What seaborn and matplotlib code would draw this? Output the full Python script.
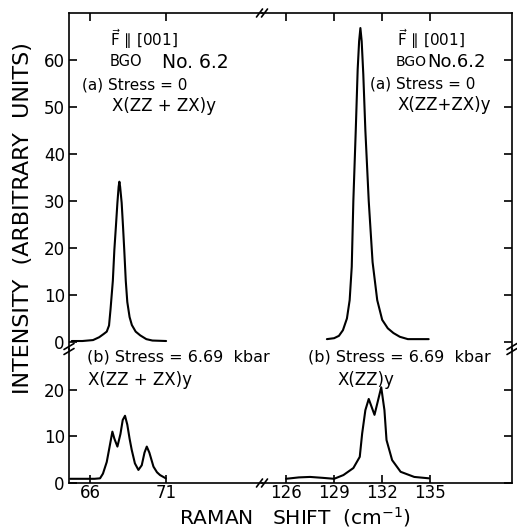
import matplotlib
matplotlib.use("Agg")
import matplotlib.pyplot as plt
import seaborn as sns
import pandas as pd
from matplotlib.lines import Line2D

# ---------------- data ----------------
# (a) stress = 0, low-frequency mode
a_low_x = [64.8, 65.5, 66.2, 66.6, 66.9, 67.1, 67.25, 67.35, 67.5, 67.6, 67.7, 67.8,
           67.88, 67.93, 67.98, 68.08, 68.17, 68.25, 68.35, 68.45, 68.6, 68.75, 69.0,
           69.3, 69.7, 70.1, 71.0]
a_low_y = [0.2, 0.2, 0.4, 1.0, 1.7, 2.2, 3.5, 7.0, 13.0, 19.6, 24.5, 29.6,
           33.0, 34.1, 33.0, 29.6, 24.5, 19.6, 13.0, 8.5, 5.3, 3.6, 2.2,
           1.4, 0.6, 0.3, 0.2]
# (a) stress = 0, high-frequency mode
a_high_x = [128.55, 129.0, 129.3, 129.55, 129.8, 129.97, 130.1, 130.2, 130.35, 130.47,
            130.56, 130.64, 130.72, 130.82, 130.95, 131.16, 131.4, 131.69, 132.0,
            132.35, 132.7, 133.1, 133.6, 134.9]
a_high_y = [0.6, 0.8, 1.3, 2.5, 5.0, 8.9, 16.0, 30.0, 45.0, 58.0,
            64.0, 66.8, 64.0, 57.0, 45.0, 30.0, 17.0, 8.9, 4.7,
            2.9, 1.9, 1.1, 0.6, 0.6]
# (b) stress = 6.69 kbar, low-frequency mode
b_low_x = [64.7, 65.5, 66.3, 66.66, 66.85, 67.1, 67.3, 67.47, 67.6, 67.8, 68.0, 68.15,
           68.3, 68.45, 68.6, 68.74, 68.95, 69.18, 69.4, 69.58, 69.73, 69.9, 70.17,
           70.4, 70.6, 70.98]
b_low_y = [0.9, 0.9, 0.9, 1.0, 2.0, 4.5, 8.0, 11.0, 9.5, 7.8, 10.5, 13.5,
           14.4, 12.5, 9.5, 7.1, 4.2, 2.8, 3.8, 6.5, 7.8, 6.5, 3.5,
           2.3, 1.7, 1.0]
# (b) stress = 6.69 kbar, high-frequency mode
b_high_x = [126.0, 126.8, 127.5, 128.3, 129.0, 129.58, 130.2, 130.6, 130.75, 130.95,
            131.16, 131.52, 131.94, 132.14, 132.27, 132.62, 133.15, 134.0, 134.92]
b_high_y = [0.9, 1.2, 1.3, 1.1, 0.9, 1.7, 3.2, 5.6, 10.6, 15.6,
            18.0, 14.6, 20.5, 15.6, 9.2, 4.9, 2.4, 1.3, 1.0]

low_ticks = [66, 71]
high_ticks = [126, 129, 132, 135]
top_yticks = [0, 10, 20, 30, 40, 50, 60]
bot_yticks = [0, 10, 20]

# ---------------- figure ----------------
sns.set_theme(style="white")
plt.rcParams['font.family'] = ['DejaVu Sans']
W, H = 517, 529
fig = plt.figure(figsize=(W / 100, H / 100), dpi=100)

L, M, R = 69, 262, 512
T, B1, B2 = 13, 349, 483

def add_ax(x0, x1, y0, y1):
    return fig.add_axes([x0 / W, 1 - y1 / H, (x1 - x0) / W, (y1 - y0) / H])

ax_tl = add_ax(L, M, T, B1)
ax_tr = add_ax(M, R, T, B1)
ax_bl = add_ax(L, M, B1, B2)
ax_br = add_ax(M, R, B1, B2)

lw = 1.5
for ax, xs, ys in [(ax_tl, a_low_x, a_low_y), (ax_tr, a_high_x, a_high_y),
                   (ax_bl, b_low_x, b_low_y), (ax_br, b_high_x, b_high_y)]:
    df = pd.DataFrame({"x": xs, "y": ys})
    sns.lineplot(data=df, x="x", y="y", ax=ax, color="black", lw=lw,
                 sort=False, estimator=None)
    ax.set_xlabel("")
    ax.set_ylabel("")
    ax.set_facecolor("none")
    for s in ax.spines.values():
        s.set_linewidth(1.2)
        s.set_color("black")

xl_low = (64.62, 77.3)
xl_high = (124.5, 140.1)
yl_top = (-1.5, 70)
yl_bot = (0, 28.7)

tick_kw = dict(direction="in", length=6, width=1.2, color="black",
               labelsize=12, labelcolor="black")

# top-left
ax_tl.set_xlim(*xl_low); ax_tl.set_ylim(*yl_top)
ax_tl.spines["right"].set_visible(False); ax_tl.spines["bottom"].set_visible(False)
ax_tl.set_xticks(low_ticks); ax_tl.set_yticks(top_yticks)
ax_tl.tick_params(axis="x", bottom=False, top=True, labelbottom=False, labeltop=False, **tick_kw)
ax_tl.tick_params(axis="y", left=True, right=False, labelleft=True, pad=3, **tick_kw)

# top-right
ax_tr.set_xlim(*xl_high); ax_tr.set_ylim(*yl_top)
ax_tr.spines["left"].set_visible(False); ax_tr.spines["bottom"].set_visible(False)
ax_tr.set_xticks(high_ticks); ax_tr.set_yticks(top_yticks)
ax_tr.tick_params(axis="x", bottom=False, top=True, labelbottom=False, labeltop=False, **tick_kw)
ax_tr.tick_params(axis="y", left=False, right=True, labelleft=False, labelright=False, **tick_kw)

# bottom-left
ax_bl.set_xlim(*xl_low); ax_bl.set_ylim(*yl_bot)
ax_bl.spines["right"].set_visible(False); ax_bl.spines["top"].set_visible(False)
ax_bl.set_xticks(low_ticks); ax_bl.set_yticks(bot_yticks)
ax_bl.tick_params(axis="x", bottom=True, top=False, labelbottom=True, pad=1, **tick_kw)
ax_bl.tick_params(axis="y", left=True, right=False, labelleft=True, pad=3, **tick_kw)

# bottom-right
ax_br.set_xlim(*xl_high); ax_br.set_ylim(*yl_bot)
ax_br.spines["left"].set_visible(False); ax_br.spines["top"].set_visible(False)
ax_br.set_xticks(high_ticks); ax_br.set_yticks(bot_yticks)
ax_br.tick_params(axis="x", bottom=True, top=False, labelbottom=True, pad=1, **tick_kw)
ax_br.tick_params(axis="y", left=False, right=True, labelleft=False, labelright=False, **tick_kw)

# ---------------- break marks ----------------
def pix_line(xs, ys):
    fig.add_artist(Line2D([x / W for x in xs], [1 - y / H for y in ys],
                          transform=fig.transFigure, color="black", lw=1.2))

for dx in (-2.5, 2.5):
    for yy in (T, B2):
        pix_line([M + dx - 3, M + dx + 3], [yy + 4, yy - 4])
    for xx in (L, R):
        pix_line([xx - 5, xx + 5], [B1 + dx + 3, B1 + dx - 3])

# ---------------- text ----------------
def ftext(x, y, s, size, **kw):
    fig.text(x / W, 1 - y / H, s, fontsize=size, ha="left", va="center",
             color="black", **kw)

F_lbl = r"$\vec{\mathrm{F}}$ ∥ [001]"
# top-left
ftext(110, 39, F_lbl, 11)
ftext(110, 62, "BGO", 10.5)
ftext(162, 62, "No. 6.2", 13.5)
ftext(82, 85, "(a) Stress = 0", 11)
ftext(112, 106, "X(ZZ + ZX)y", 12)
# top-right
ftext(397, 39, F_lbl, 11)
ftext(396, 62, "BGO", 10)
ftext(427, 62, "No.6.2", 13)
ftext(370, 84, "(a) Stress = 0", 11)
ftext(398, 105, "X(ZZ+ZX)y", 12)
# bottom-left
ftext(87, 357, "(b) Stress = 6.69  kbar", 11.5)
ftext(88, 380, "X(ZZ + ZX)y", 12)
# bottom-right
ftext(308, 357, "(b) Stress = 6.69  kbar", 11.5)
ftext(337, 380, "X(ZZ)y", 12)

fig.text(295 / W, 1 - 524 / H, r"RAMAN   SHIFT  (cm$^{-1}$)", fontsize=14.5,
         ha="center", va="baseline", color="black")
fig.text(23 / W, 1 - 218 / H, "INTENSITY  (ARBITRARY  UNITS)", fontsize=16,
         ha="center", va="center", rotation=90, color="black")

fig.savefig("out.png", dpi=100, facecolor="white")
